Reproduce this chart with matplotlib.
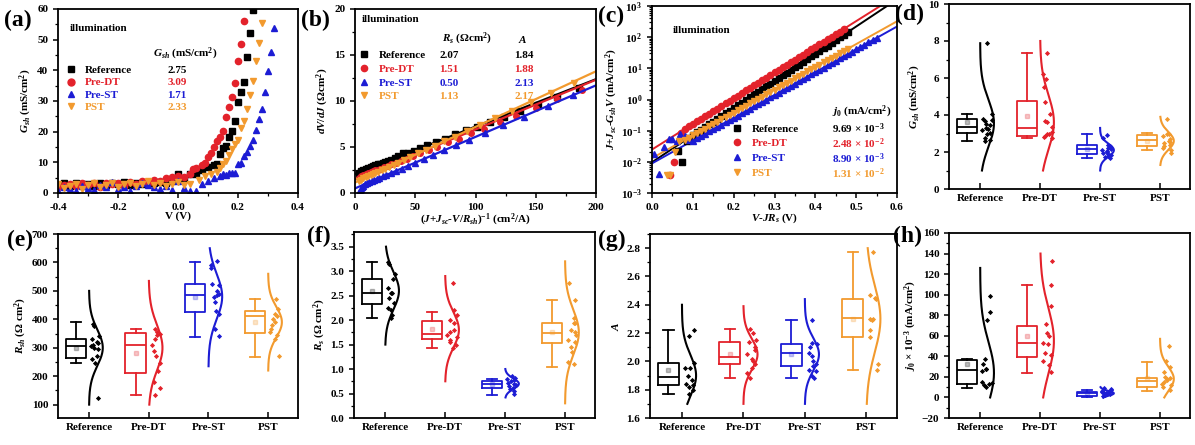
import numpy as np
import matplotlib
matplotlib.use("Agg")
import matplotlib.pyplot as plt  # noqa: E402
from matplotlib.lines import Line2D  # noqa: E402
from matplotlib.ticker import MultipleLocator, LogLocator, NullFormatter  # noqa: E402

plt.rcParams.update({
    "font.family": ["Liberation Serif", "DejaVu Serif"],
    "font.weight": "bold",
    "axes.labelweight": "bold",
    "font.size": 8,
    "mathtext.fontset": "custom",
    "mathtext.rm": "Liberation Serif:bold",
    "mathtext.it": "Liberation Serif:italic:bold",
    "mathtext.bf": "Liberation Serif:bold",
    "axes.linewidth": 1.3,
    "xtick.major.width": 1.1, "ytick.major.width": 1.1,
    "xtick.minor.width": 0.9, "ytick.minor.width": 0.9,
    "xtick.major.size": 3.5, "ytick.major.size": 3.5,
    "xtick.minor.size": 2.0, "ytick.minor.size": 2.0,
})

NAMES = ["Reference", "Pre-DT", "Pre-ST", "PST"]
COLORS = ["#000000", "#e3222b", "#1c1cd4", "#f29a2e"]
MARKERS = ["s", "o", "^", "v"]

# ── (a) G_sh vs V ────────────────────────────────────────────────
v_flat = [-0.40, -0.38, -0.36, -0.34, -0.32, -0.30, -0.28, -0.26, -0.24, -0.22, -0.20,
          -0.18, -0.16, -0.14, -0.12, -0.10, -0.08, -0.06, -0.04, -0.02, 0.00]
a_v_ref = v_flat + [0.02, 0.04, 0.06, 0.08, 0.10, 0.12, 0.13, 0.14, 0.15, 0.16, 0.17, 0.18,
                    0.19, 0.20, 0.21, 0.22, 0.23, 0.24, 0.25]
a_g_ref = [2.5, 3.1, 2.2, 3.4, 2.8, 3.0, 2.4, 3.3, 2.7, 3.1, 2.9, 3.5, 2.6, 3.2, 3.0, 3.4, 3.1,
           3.6, 3.3, 4.0, 6.3,
           4.5, 6.1, 6.3, 7.4, 8.5, 9.0, 9.4, 12.6, 14.8, 15.3, 18.2, 20.2, 23.5, 29.7, 32.8,
           36.3, 44.4, 52.3, 59.7]
a_v_dt = v_flat + [0.02, 0.04, 0.05, 0.06, 0.08, 0.09, 0.10, 0.11, 0.12, 0.13, 0.14, 0.15,
                   0.16, 0.17, 0.18, 0.19, 0.20, 0.21, 0.22]
a_g_dt = [1.8, 2.6, 3.0, 2.2, 3.2, 2.5, 3.4, 2.0, 3.1, 2.8, 3.3, 2.4, 3.6, 3.0, 3.8, 3.4, 4.2,
          3.9, 4.8, 5.2, 5.6,
          5.1, 6.2, 7.8, 8.2, 9.0, 9.8, 11.8, 13.1, 15.0, 16.8, 18.1, 20.3, 24.7, 28.2, 31.4,
          35.8, 43.2, 48.6, 56.2]
a_v_st = v_flat + [0.02, 0.04, 0.06, 0.08, 0.10, 0.12, 0.14, 0.15, 0.16, 0.17, 0.18, 0.19,
                   0.20, 0.21, 0.22, 0.23, 0.24, 0.25, 0.26, 0.27, 0.28, 0.29, 0.30, 0.31, 0.32]
a_g_st = [0.8, 2.0, 1.2, 0.5, 2.2, 1.5, 0.9, 2.6, 1.8, 3.6, 1.4, 2.0, 0.7, 2.4, 3.4, 2.6, 1.9,
          1.2, 2.3, 1.0, 3.9,
          1.6, 0.6, 0.6, 2.8, 3.9, 4.9, 5.5, 6.3, 6.0, 6.6, 6.6, 6.6, 9.6, 9.8, 12.0, 13.3,
          15.2, 17.3, 20.6, 24.1, 27.3, 33.0, 39.9, 45.9, 53.9]
a_v_pst = v_flat + [0.02, 0.04, 0.07, 0.09, 0.11, 0.13, 0.14, 0.15, 0.16, 0.17, 0.18, 0.19,
                    0.20, 0.21, 0.22, 0.23, 0.24, 0.25, 0.26, 0.27, 0.28]
a_g_pst = [2.8, 1.5, 2.2, 2.9, 1.2, 2.5, 3.1, 1.9, 2.6, 3.2, 2.0, 2.8, 3.4, 2.3, 3.0, 4.0, 2.6,
           3.2, 2.4, 2.9, 3.5,
           2.5, 3.0, 4.2, 5.5, 6.1, 6.9, 8.3, 9.4, 10.4, 12.5, 14.3, 15.9, 17.4, 21.3, 23.5,
           27.3, 32.1, 36.5, 43.0, 49.0, 55.5]
a_gsh_text = ["2.75", "3.09", "1.71", "2.33"]

# ── (b) dV/dJ vs (J+Jsc-V/Rsh)^-1 ─────────────────────────────────
b_x_ref = [3, 5, 7, 9, 11, 13, 15, 17, 19, 21, 23, 25, 27, 30, 33, 36, 40, 44, 49, 54, 60, 67,
           75, 83, 92, 101, 112, 124, 137, 152, 168, 186]
b_y_ref = [2.2, 2.4, 2.5, 2.6, 2.7, 2.8, 2.9, 3.0, 3.1, 3.2, 3.3, 3.35, 3.45, 3.6, 3.8, 4.0,
           4.3, 4.4, 4.6, 4.9, 5.2, 5.5, 5.9, 6.4, 6.8, 7.2, 7.7, 8.3, 8.9, 9.6, 10.4, 11.4]
b_x_dt = [3, 5, 7, 9, 11, 13, 15, 17, 19, 21, 24, 27, 30, 34, 38, 43, 48, 54, 61, 68, 77, 86,
          96, 107, 120, 134, 150, 168, 188]
b_y_dt = [1.6, 1.8, 1.95, 2.05, 2.15, 2.25, 2.35, 2.45, 2.55, 2.65, 2.8, 2.95, 3.1, 3.3, 3.5,
          3.75, 4.0, 4.3, 4.7, 5.0, 5.5, 5.9, 6.5, 7.0, 7.7, 8.4, 9.2, 10.2, 11.2]
b_x_st = [3, 4, 5, 6, 7, 8, 10, 12, 14, 16, 18, 20, 23, 26, 30, 34, 39, 44, 50, 57, 65, 74, 84,
          95, 108, 123, 140, 160, 181]
b_y_st = [0.1, 0.2, 0.4, 0.6, 0.8, 0.95, 1.1, 1.2, 1.35, 1.45, 1.55, 1.65, 1.8, 1.95, 2.15, 2.4,
          2.65, 2.95, 3.3, 3.7, 4.15, 4.65, 5.2, 5.8, 6.5, 7.4, 8.3, 9.5, 10.7]
b_x_pst = [3, 5, 7, 9, 11, 13, 15, 17, 19, 22, 25, 28, 32, 36, 41, 46, 52, 59, 66, 74, 83, 93,
           104, 116, 130, 146, 163, 182]
b_y_pst = [1.3, 1.45, 1.6, 1.75, 1.85, 1.95, 2.05, 2.15, 2.25, 2.45, 2.6, 2.8, 3.05, 3.3, 3.6,
           3.9, 4.3, 4.7, 5.1, 5.6, 6.1, 6.7, 7.4, 8.1, 8.9, 9.9, 10.9, 12.0]
b_fit_x = [0, 200]
b_rs = [2.07, 1.51, 0.50, 1.13]
b_slope = [0.0515, 0.0540, 0.0560, 0.0605]
b_rs_text = ["2.07", "1.51", "0.50", "1.13"]
b_a_text = ["1.84", "1.88", "2.13", "2.17"]

# ── (c) J+Jsc-GshV vs V-JRs (semilog) ─────────────────────────────
c_x_ref = [0.063, 0.073, 0.086,
           0.09, 0.10, 0.11, 0.12, 0.13, 0.14, 0.15, 0.16, 0.17, 0.18, 0.19, 0.20, 0.21, 0.22,
           0.23, 0.24, 0.25, 0.26, 0.27, 0.28, 0.29, 0.30, 0.31, 0.32, 0.33, 0.34, 0.35, 0.36,
           0.37, 0.38, 0.39, 0.40, 0.41, 0.42, 0.43, 0.44, 0.45, 0.46, 0.47, 0.48]
c_y_ref = [0.023, 0.0098, 0.046,
           0.059, 0.072, 0.088, 0.107, 0.131, 0.160, 0.196, 0.240, 0.293, 0.358, 0.438, 0.535,
           0.653, 0.798, 0.975, 1.19, 1.46, 1.78, 2.18, 2.66, 3.25, 3.97, 4.85, 5.93, 7.24, 8.85,
           10.8, 13.2, 16.2, 19.8, 24.1, 29.5, 36.1, 44.1, 53.8, 65.8, 80.5, 98.4, 120, 147]
c_x_dt = [0.045, 0.055, 0.07, 0.08,
          0.09, 0.10, 0.11, 0.12, 0.13, 0.14, 0.15, 0.16, 0.17, 0.18, 0.19, 0.20, 0.21, 0.22,
          0.23, 0.24, 0.25, 0.26, 0.27, 0.28, 0.29, 0.30, 0.31, 0.32, 0.33, 0.34, 0.35, 0.36,
          0.37, 0.38, 0.39, 0.40, 0.41, 0.42, 0.43, 0.44, 0.45, 0.46, 0.47]
c_y_dt = [0.0039, 0.0098, 0.085, 0.115,
          0.138, 0.166, 0.200, 0.240, 0.295, 0.355, 0.427, 0.513, 0.617, 0.759, 0.912, 1.10,
          1.32, 1.62, 1.95, 2.34, 2.82, 3.47, 4.17, 5.01, 6.03, 7.41, 8.91, 10.7, 12.9, 15.8,
          19.1, 22.9, 27.5, 33.9, 40.7, 49.0, 58.9, 70.8, 87.1, 105, 126, 151, 186]
c_x_st = [0.004, 0.016, 0.029, 0.041, 0.049, 0.060, 0.069, 0.080, 0.090,
          0.10, 0.11, 0.12, 0.13, 0.14, 0.15, 0.16, 0.17, 0.18, 0.19, 0.20, 0.21, 0.22, 0.23,
          0.24, 0.25, 0.26, 0.27, 0.28, 0.29, 0.30, 0.31, 0.32, 0.33, 0.34, 0.35, 0.36, 0.37,
          0.38, 0.39, 0.40, 0.41, 0.42, 0.43, 0.44, 0.45, 0.46, 0.47, 0.48, 0.49, 0.50, 0.51,
          0.52, 0.53, 0.54, 0.55]
c_y_st = [0.018, 0.0042, 0.029, 0.055, 0.055, 0.045, 0.080, 0.065, 0.050,
          0.048, 0.057, 0.068, 0.080, 0.095, 0.112, 0.132, 0.157, 0.185, 0.219, 0.259, 0.306,
          0.362, 0.428, 0.507, 0.599, 0.709, 0.843, 1.00, 1.18, 1.40, 1.66, 1.96, 2.32, 2.75,
          3.25, 3.85, 4.55, 5.39, 6.38, 7.55, 8.93, 10.6, 12.5, 14.8, 17.5, 20.8, 24.6, 29.1,
          34.4, 40.7, 48.2, 57.1, 67.6, 80.0, 94.6]
c_x_pst = [0.037, 0.045, 0.057, 0.066,
           0.08, 0.09, 0.10, 0.11, 0.12, 0.13, 0.14, 0.15, 0.16, 0.17, 0.18, 0.19, 0.20, 0.21,
           0.22, 0.23, 0.24, 0.25, 0.26, 0.27, 0.28, 0.29, 0.30, 0.31, 0.32, 0.33, 0.34, 0.35,
           0.36, 0.37, 0.38, 0.39, 0.40, 0.41, 0.42, 0.43, 0.44, 0.45, 0.46, 0.47, 0.48]
c_y_pst = [0.0039, 0.0039, 0.020, 0.045,
           0.050, 0.060, 0.071, 0.084, 0.099, 0.117, 0.139, 0.164, 0.194, 0.230, 0.272, 0.322,
           0.381, 0.451, 0.534, 0.632, 0.748, 0.885, 1.05, 1.24, 1.47, 1.74, 2.06, 2.43, 2.88,
           3.41, 4.03, 4.77, 5.65, 6.69, 7.92, 9.37, 11.1, 13.1, 15.5, 18.4, 21.8, 25.8, 30.5,
           36.1, 42.7]
c_fit_x = [0.0, 0.6]
c_j0 = [9.69e-3, 2.48e-2, 8.90e-3, 1.31e-2]
c_slope = [8.71, 8.24, 7.32, 7.32]   # decades per volt
c_j0_text = [r"9.69 × 10$^{-3}$", r"2.48 × 10$^{-2}$", r"8.90 × 10$^{-3}$", r"1.31 × 10$^{-2}$"]

# ── (d)-(h) statistics: Reference, Pre-DT, Pre-ST, PST ───────────
d_q1 = [3.02, 2.88, 1.89, 2.34]
d_med = [3.35, 3.29, 2.18, 2.63]
d_q3 = [3.78, 4.78, 2.36, 2.93]
d_lo = [2.57, 2.75, 1.67, 2.12]
d_hi = [4.05, 7.37, 2.97, 3.02]
d_mean = [3.60, 3.92, 2.15, 2.60]
d_pts = [[7.88, 4.05, 3.80, 3.75, 3.70, 3.50, 3.45, 3.30, 3.25, 3.20, 3.05, 2.95, 2.75, 2.65, 2.60],
         [7.35, 6.20, 5.95, 5.50, 4.70, 4.05, 3.65, 3.60, 3.35, 3.10, 3.00, 2.95, 2.85, 2.80, 2.75],
         [2.90, 2.75, 2.40, 2.30, 2.20, 2.15, 2.10, 2.05, 2.00, 1.95, 1.90, 1.85, 1.80, 1.75, 1.70],
         [3.80, 3.00, 2.95, 2.85, 2.70, 2.60, 2.55, 2.50, 2.40, 2.30, 2.20, 2.10, 1.95]]
d_curve_lo = [1.0, 1.0, 1.0, 1.3]
d_curve_hi = [7.88, 8.0, 3.3, 3.9]
d_curve_mid = [3.55, 3.6, 2.1, 2.6]

e_q1 = [264, 211, 425, 351]
e_med = [307, 310, 486, 410]
e_q3 = [332, 351, 524, 430]
e_lo = [246, 135, 337, 267]
e_hi = [389, 366, 603, 472]
e_mean = [300, 283, 480, 390]
e_pts = [[385, 375, 340, 330, 320, 315, 310, 305, 300, 295, 270, 262, 245, 125],
         [365, 355, 350, 345, 330, 310, 290, 270, 245, 220, 180, 160, 135],
         [605, 590, 580, 525, 520, 500, 490, 485, 480, 460, 430, 420, 365, 340],
         [470, 435, 420, 410, 400, 390, 380, 365, 355, 345, 330, 270]]
e_curve_lo = [100, 100, 235, 220]
e_curve_hi = [500, 535, 650, 560]
e_curve_mid = [300, 300, 480, 390]

f_q1 = [2.32, 1.61, 0.61, 1.54]
f_med = [2.56, 1.72, 0.69, 1.74]
f_q3 = [2.83, 1.99, 0.76, 1.95]
f_lo = [2.05, 1.42, 0.48, 1.04]
f_hi = [3.18, 2.17, 0.80, 2.42]
f_mean = [2.60, 1.82, 0.70, 1.76]
f_pts = [[3.18, 3.15, 2.95, 2.85, 2.65, 2.55, 2.55, 2.45, 2.35, 2.25, 2.20, 2.10, 2.05],
         [2.75, 2.20, 2.10, 2.00, 1.95, 1.80, 1.75, 1.70, 1.65, 1.60, 1.55, 1.50, 1.43],
         [0.85, 0.82, 0.80, 0.78, 0.75, 0.72, 0.70, 0.68, 0.65, 0.62, 0.60, 0.55, 0.50],
         [2.75, 2.42, 2.05, 1.95, 1.95, 1.80, 1.75, 1.70, 1.60, 1.55, 1.45, 1.35, 1.15, 1.10]]
f_curve_lo = [1.5, 0.75, 0.42, 0.3]
f_curve_hi = [3.5, 2.9, 1.0, 3.2]
f_curve_mid = [2.6, 1.8, 0.7, 1.75]

g_q1 = [1.83, 1.98, 1.97, 2.17]
g_med = [1.89, 2.03, 2.06, 2.31]
g_q3 = [1.99, 2.14, 2.12, 2.44]
g_lo = [1.77, 1.88, 1.88, 1.94]
g_hi = [2.22, 2.23, 2.29, 2.77]
g_mean = [1.94, 2.05, 2.05, 2.30]
g_pts = [[2.22, 2.18, 1.99, 1.95, 1.95, 1.90, 1.87, 1.84, 1.83, 1.82, 1.80, 1.77],
         [2.23, 2.20, 2.15, 2.14, 2.10, 2.08, 2.05, 2.02, 2.00, 1.98, 1.95, 1.92, 1.88],
         [2.29, 2.13, 2.12, 2.10, 2.06, 2.04, 2.00, 1.98, 1.97, 1.94, 1.93, 1.90, 1.88],
         [2.77, 2.47, 2.45, 2.44, 2.30, 2.30, 2.29, 2.22, 2.17, 1.98, 1.94]]
g_curve_lo = [1.7, 1.7, 1.7, 1.7]
g_curve_hi = [2.4, 2.39, 2.44, 2.8]
g_curve_mid = [1.9, 2.05, 2.05, 2.3]

h_q1 = [12.7, 39.4, 1.5, 10.1]
h_med = [26.4, 53.4, 4.0, 16.0]
h_q3 = [36.5, 69.7, 5.5, 19.2]
h_lo = [8.8, 24.1, 0.5, 6.2]
h_hi = [37.0, 109.4, 7.0, 34.9]
h_mean = [33, 60, 4, 19]
h_pts = [[99, 83, 75, 37, 33, 28, 28, 26, 15, 14, 13, 12, 10],
         [133, 109, 89, 71, 63, 60, 53, 52, 43, 41, 35, 32, 25],
         [9, 8, 7, 6, 5, 5, 4, 4, 4, 3, 3, 2, 1],
         [50, 35, 30, 25, 20, 19, 18, 17, 15, 13, 12, 10, 7]]
h_curve_lo = [0, 0, 0, 0]
h_curve_hi = [126, 140, 10, 57]
h_curve_mid = [24, 55, 4, 18]

W, H = 1195, 445


def px_axes(fig, l, t, r, b):
    return fig.add_axes([l / W, 1 - b / H, (r - l) / W, (b - t) / H])


def style(ax):
    ax.tick_params(which="both", direction="out", top=False, right=False)


def key_table(ax, anchor, columns, header=None, ms=5, spacing=0.2, head_gap=1.4):
    """Legend of marker+name, plus value columns aligned on the legend rows."""
    handles = [Line2D([], [], ls="none", marker=m, color=c, ms=ms) for m, c in zip(MARKERS, COLORS)]
    leg = ax.legend(handles, NAMES, loc="upper left", bbox_to_anchor=anchor, frameon=False,
                    handlelength=0.8, handletextpad=0.9, labelspacing=spacing, borderpad=0,
                    borderaxespad=0, fontsize=8)
    for t, c in zip(leg.get_texts(), COLORS):
        t.set_color(c)
    ax.figure.canvas.draw()
    inv = ax.transAxes.inverted()
    rows = []
    for t in leg.get_texts():
        bb = t.get_window_extent()
        rows.append(inv.transform(((bb.x0 + bb.x1) / 2, (bb.y0 + bb.y1) / 2))[1])
    for x, vals in columns:
        for y, v, c in zip(rows, vals, COLORS):
            ax.text(x, y, v, transform=ax.transAxes, color=c, va="center", fontsize=8)
    if header:
        dy = rows[0] - rows[1]
        for x, txt in header:
            ax.text(x, rows[0] + dy * head_gap, txt, transform=ax.transAxes, va="center",
                    fontsize=8)


def box_panel(ax, q1, med, q3, lo, hi, mean, pts, c_lo, c_hi, c_mid, seed):
    pos = np.arange(1, 5)
    stats = [dict(q1=q1[i], med=med[i], q3=q3[i], whislo=lo[i], whishi=hi[i],
                  mean=mean[i], fliers=[]) for i in range(4)]
    bp = ax.bxp(stats, positions=pos - 0.22, widths=0.34, capwidths=0.17, showmeans=True,
                manage_ticks=False)
    rng = np.random.default_rng(seed)
    for i, c in enumerate(COLORS):
        for art in [bp["boxes"][i], bp["medians"][i], bp["whiskers"][2 * i],
                    bp["whiskers"][2 * i + 1], bp["caps"][2 * i], bp["caps"][2 * i + 1]]:
            art.set_color(c)
            art.set_linewidth(1.3)
        bp["means"][i].set(marker="s", markersize=2.5, markerfacecolor=c,
                           markeredgecolor=c, alpha=0.25)
        p = np.asarray(pts[i], dtype=float)
        ax.scatter(pos[i] + rng.uniform(0.03, 0.2, len(p)), p, marker="D", s=7,
                   color=c, linewidths=0, zorder=3)
        y = np.linspace(c_lo[i], c_hi[i], 200)
        sd = p.std(ddof=1)
        dens = np.exp(-0.5 * ((y - c_mid[i]) / sd) ** 2)
        ax.plot(pos[i] + 0.23 * dens, y, color=c, lw=1.5)
    ax.set_xticks(pos, NAMES)
    ax.set_xlim(0.48, 4.5)
    ax.tick_params(which="both", direction="out", top=False, right=False)
    ax.tick_params(axis="x", direction="in", length=4)


fig = plt.figure(figsize=(W / 100, H / 100), dpi=100)

# (a)
ax = px_axes(fig, 58, 9, 298, 193)
for v, g, c, m in zip([a_v_ref, a_v_dt, a_v_st, a_v_pst], [a_g_ref, a_g_dt, a_g_st, a_g_pst],
                      COLORS, MARKERS):
    ax.plot(v, g, ls="none", marker=m, color=c, ms=4.5)
ax.set_xlim(-0.4, 0.4)
ax.set_ylim(0, 60)
ax.xaxis.set_major_locator(MultipleLocator(0.2))
ax.xaxis.set_minor_locator(MultipleLocator(0.1))
ax.yaxis.set_major_locator(MultipleLocator(10))
ax.yaxis.set_minor_locator(MultipleLocator(5))
ax.xaxis.set_major_formatter(lambda x, p: f"{x:.1f}")
ax.set_xlabel("V (V)", labelpad=0)
ax.set_ylabel(r"$G_{sh}$ (mS/cm$^2$)", labelpad=2)
style(ax)
ax.text(0.05, 0.895, "illumination", transform=ax.transAxes, va="center", fontsize=8)
key_table(ax, (0.035, 0.693), [(0.455, a_gsh_text)],
          header=[(0.395, r"$G_{sh}$ (mS/cm$^2$)")], spacing=0.22, head_gap=1.4)

# (b)
ax = px_axes(fig, 355, 9, 596, 193)
fit_x = np.asarray(b_fit_x, dtype=float)
for xs, ys, rs, k, c, m in zip([b_x_ref, b_x_dt, b_x_st, b_x_pst],
                               [b_y_ref, b_y_dt, b_y_st, b_y_pst], b_rs, b_slope, COLORS, MARKERS):
    ax.plot(xs, ys, ls="none", marker=m, color=c, ms=4)
    ax.plot(fit_x, rs + k * fit_x, color=c, lw=1.6)
ax.set_xlim(0, 200)
ax.set_ylim(0, 20)
ax.xaxis.set_major_locator(MultipleLocator(50))
ax.xaxis.set_minor_locator(MultipleLocator(25))
ax.yaxis.set_major_locator(MultipleLocator(5))
ax.yaxis.set_minor_locator(MultipleLocator(2.5))
ax.set_xlabel(r"($J$+$J_{sc}$-$V$/$R_{sh}$)$^{-1}$ (cm$^2$/A)", labelpad=0)
ax.set_ylabel(r"$dV/dJ$ ($\Omega$cm$^2$)", labelpad=2)
style(ax)
ax.text(0.03, 0.945, "illumination", transform=ax.transAxes, va="center", fontsize=8)
key_table(ax, (0.02, 0.775), [(0.35, b_rs_text), (0.66, b_a_text)],
          header=[(0.36, r"$R_s$ ($\Omega$cm$^2$)"), (0.675, r"$A$")], ms=4.5,
          spacing=0.35, head_gap=1.2)

# (c)
ax = px_axes(fig, 652, 6, 897, 193)
fit_x = np.asarray(c_fit_x, dtype=float)
for xs, ys, j0, k, c, m in zip([c_x_ref, c_x_dt, c_x_st, c_x_pst],
                               [c_y_ref, c_y_dt, c_y_st, c_y_pst], c_j0, c_slope, COLORS, MARKERS):
    ax.plot(fit_x, j0 * 10 ** (k * fit_x), color=c, lw=1.4, zorder=1)
    ax.plot(xs, ys, ls="none", marker=m, color=c, ms=4.5, zorder=2)
ax.set_yscale("log")
ax.set_xlim(0, 0.6)
ax.set_ylim(1e-3, 1e3)
ax.yaxis.set_major_locator(LogLocator(base=10, numticks=10))
ax.yaxis.set_minor_locator(LogLocator(base=10, subs=np.arange(2, 10), numticks=10))
ax.yaxis.set_minor_formatter(NullFormatter())
ax.xaxis.set_major_locator(MultipleLocator(0.1))
ax.xaxis.set_minor_locator(MultipleLocator(0.05))
ax.xaxis.set_major_formatter(lambda x, p: f"{x:.1f}")
ax.set_xlabel(r"$V$-$JR_s$ (V)", labelpad=0)
ax.set_ylabel(r"$J$+$J_{sc}$-$G_{sh}V$ (mA/cm$^2$)", labelpad=1)
style(ax)
ax.text(0.085, 0.87, "illumination", transform=ax.transAxes, va="center", fontsize=8)
key_table(ax, (0.33, 0.37), [(0.735, c_j0_text)],
          header=[(0.735, r"$j_0$ (mA/cm$^2$)")], ms=4.5, spacing=0.45, head_gap=1.15)

# (d)
ax = px_axes(fig, 949, 4, 1190, 189)
box_panel(ax, d_q1, d_med, d_q3, d_lo, d_hi, d_mean, d_pts, d_curve_lo, d_curve_hi,
          d_curve_mid, 1)
ax.set_ylim(0, 10)
ax.yaxis.set_major_locator(MultipleLocator(2))
ax.yaxis.set_minor_locator(MultipleLocator(1))
ax.set_ylabel(r"$G_{sh}$ (mS/cm$^2$)", labelpad=4)

# (e)
ax = px_axes(fig, 58, 234, 298, 418)
box_panel(ax, e_q1, e_med, e_q3, e_lo, e_hi, e_mean, e_pts, e_curve_lo, e_curve_hi,
          e_curve_mid, 2)
ax.set_ylim(53, 700)
ax.yaxis.set_major_locator(MultipleLocator(100))
ax.yaxis.set_minor_locator(MultipleLocator(50))
ax.set_ylabel(r"$R_{sh}$ ($\Omega$ cm$^2$)", labelpad=2)

# (f)
ax = px_axes(fig, 354, 232, 595, 418)
box_panel(ax, f_q1, f_med, f_q3, f_lo, f_hi, f_mean, f_pts, f_curve_lo, f_curve_hi,
          f_curve_mid, 3)
ax.set_ylim(0, 3.8)
ax.yaxis.set_major_locator(MultipleLocator(0.5))
ax.yaxis.set_minor_locator(MultipleLocator(0.25))
ax.yaxis.set_major_formatter(lambda x, p: f"{x:.1f}")
ax.set_ylabel(r"$R_s$ ($\Omega$ cm$^2$)", labelpad=2)

# (g)
ax = px_axes(fig, 650, 234, 897, 418)
box_panel(ax, g_q1, g_med, g_q3, g_lo, g_hi, g_mean, g_pts, g_curve_lo, g_curve_hi,
          g_curve_mid, 4)
ax.set_ylim(1.6, 2.9)
ax.yaxis.set_major_locator(MultipleLocator(0.2))
ax.yaxis.set_minor_locator(MultipleLocator(0.1))
ax.yaxis.set_major_formatter(lambda x, p: f"{x:.1f}")
ax.set_ylabel(r"$A$", labelpad=4)

# (h)
ax = px_axes(fig, 949, 233, 1190, 418)
box_panel(ax, h_q1, h_med, h_q3, h_lo, h_hi, h_mean, h_pts, h_curve_lo, h_curve_hi,
          h_curve_mid, 5)
ax.set_ylim(-20, 160)
ax.yaxis.set_major_locator(MultipleLocator(20))
ax.yaxis.set_minor_locator(MultipleLocator(10))
ax.set_ylabel(r"$j_0$ × 10$^{-3}$ (mA/cm$^2$)", labelpad=2)

for lab, x, y in [("(a)", 18, 20), ("(b)", 315, 20), ("(c)", 611, 16), ("(d)", 910, 14),
                  ("(e)", 20, 240), ("(f)", 319, 236), ("(g)", 612, 240), ("(h)", 908, 236)]:
    fig.text(x / W, 1 - y / H, lab, ha="center", va="center", fontsize=17, fontweight="bold")

fig.savefig("out.png", dpi=100)
